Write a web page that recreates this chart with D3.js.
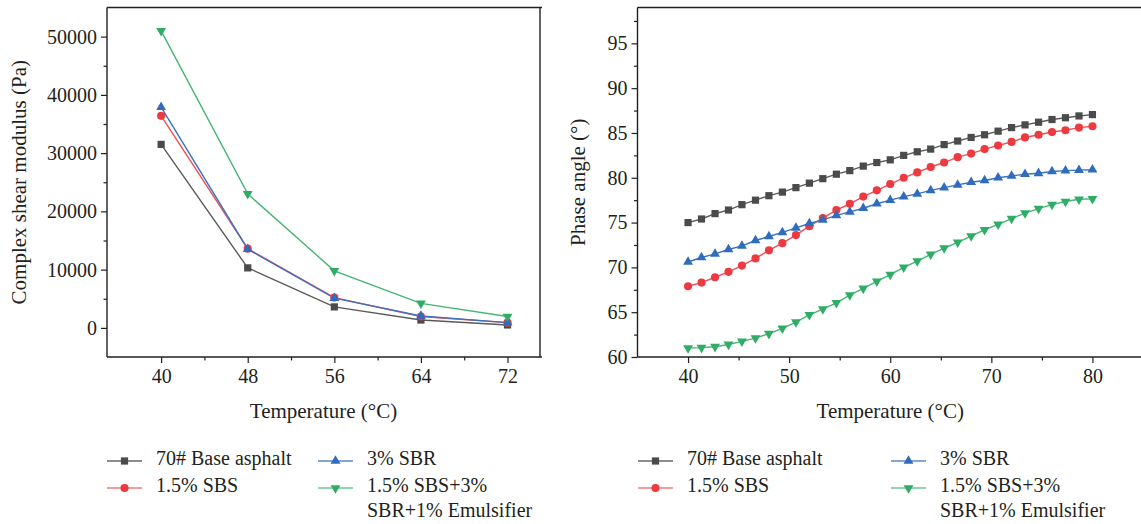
<!DOCTYPE html>
<html><head><meta charset="utf-8">
<script src="https://cdn.jsdelivr.net/npm/d3@7/dist/d3.min.js"></script>
<style>
html,body{margin:0;padding:0;background:#fff;}
svg{display:block;font-family:"Liberation Serif","Times New Roman",serif;}
</style></head>
<body><svg id="c" width="1141" height="524"></svg>
<script>
// ---------- data ----------
const modTemps = [40, 48, 56, 64, 72];
const modBase = [31500, 10300, 3600, 1350, 500];
const modSBS = [36400, 13600, 5200, 1950, 900];
const modSBR = [37900, 13500, 5100, 2050, 900];
const modComposite = [51000, 23000, 9800, 4200, 1950];

const phaseTemps = [40, 41.33, 42.67, 44, 45.33, 46.67, 48, 49.33, 50.67, 52, 53.33, 54.67, 56, 57.33, 58.67, 60,
  61.33, 62.67, 64, 65.33, 66.67, 68, 69.33, 70.67, 72, 73.33, 74.67, 76, 77.33, 78.67, 80];
const phaseBase = [75.0, 75.4, 76.0, 76.4, 77.0, 77.5, 78.0, 78.4, 78.9, 79.4, 79.9, 80.4, 80.8, 81.3, 81.7, 82.0,
  82.5, 82.9, 83.2, 83.7, 84.1, 84.5, 84.8, 85.2, 85.6, 85.9, 86.2, 86.5, 86.7, 86.9, 87.05];
const phaseSBS = [67.9, 68.3, 68.9, 69.5, 70.2, 71.0, 71.9, 72.7, 73.6, 74.6, 75.5, 76.4, 77.1, 77.9, 78.6, 79.3,
  80.0, 80.6, 81.2, 81.7, 82.3, 82.7, 83.2, 83.6, 84.0, 84.5, 84.8, 85.1, 85.3, 85.6, 85.75];
const phaseSBR = [70.6, 71.1, 71.5, 72.0, 72.4, 73.0, 73.45, 73.9, 74.4, 74.9, 75.3, 75.8, 76.2, 76.6, 77.1, 77.5,
  77.9, 78.2, 78.6, 78.9, 79.2, 79.5, 79.7, 80.0, 80.2, 80.4, 80.5, 80.7, 80.8, 80.85, 80.9];
const phaseComposite = [61.0, 61.05, 61.15, 61.4, 61.75, 62.1, 62.6, 63.2, 63.9, 64.7, 65.35, 66.05, 66.9, 67.65, 68.45, 69.2,
  70.0, 70.7, 71.45, 72.15, 72.8, 73.5, 74.2, 74.8, 75.45, 76.05, 76.55, 77.0, 77.35, 77.6, 77.65];

const seriesNames = ["70# Base asphalt", "1.5% SBS", "3% SBR", "1.5% SBS+3%\nSBR+1% Emulsifier"];
const modTicksX = [40, 48, 56, 64, 72];
const modMinorX = [44, 52, 60, 68];
const modTicksY = [0, 10000, 20000, 30000, 40000, 50000];
const modMinorY = [5000, 15000, 25000, 35000, 45000];
const phTicksX = [40, 50, 60, 70, 80];
const phMinorX = [45, 55, 65, 75];
const phTicksY = [60, 65, 70, 75, 80, 85, 90, 95];
const phMinorY = [62.5, 67.5, 72.5, 77.5, 82.5, 87.5, 92.5, 97.5];

// ---------- styles ----------
const markerCol = ["#4b4b4b", "#ec3a40", "#2f6cbd", "#2fac66"];
const lineCol = ["#5a5a5a", "#ee5055", "#3b72c0", "#45b676"];
const legLineCol = ["#666666", "#f27a7e", "#5a88c8", "#6cc796"];
const symType = [d3.symbolSquare, d3.symbolCircle, d3.symbolTriangle, d3.symbolTriangle];
const symSize = [52, 52, 42, 42];
const symRot = [0, 0, 0, 180];
const axisCol = "#231f20";
const textCol = "#231f20";

const svg = d3.select("#c");

function drawPanel(cfg) {
  const g = svg.append("g");
  const x = d3.scaleLinear().domain(cfg.xDomain).range([cfg.left, cfg.right]);
  const y = d3.scaleLinear().domain(cfg.yDomain).range([cfg.bottom, cfg.top]);

  // frame (top + right)
  g.append("line").attr("x1", cfg.left).attr("x2", cfg.right + 2).attr("y1", cfg.top).attr("y2", cfg.top)
    .attr("stroke", axisCol).attr("stroke-width", 1.4);
  g.append("line").attr("x1", cfg.right).attr("x2", cfg.right).attr("y1", cfg.top).attr("y2", cfg.bottom)
    .attr("stroke", axisCol).attr("stroke-width", 1.4);

  // axes
  const xAx = g.append("g").attr("transform", `translate(0,${cfg.bottom})`)
    .call(d3.axisBottom(x).tickValues(cfg.xTicks).tickSize(6).tickSizeOuter(0).tickPadding(6).tickFormat(d3.format("d")));
  const xMin = g.append("g").attr("transform", `translate(0,${cfg.bottom})`)
    .call(d3.axisBottom(x).tickValues(cfg.xMinor).tickSize(3.5).tickSizeOuter(0).tickFormat(""));
  const yAx = g.append("g").attr("transform", `translate(${cfg.left},0)`)
    .call(d3.axisLeft(y).tickValues(cfg.yTicks).tickSize(6).tickSizeOuter(0).tickPadding(4).tickFormat(d3.format("d")));
  const yMin = g.append("g").attr("transform", `translate(${cfg.left},0)`)
    .call(d3.axisLeft(y).tickValues(cfg.yMinor).tickSize(3.5).tickSizeOuter(0).tickFormat(""));
  [xAx, xMin, yAx, yMin].forEach(a => {
    a.select(".domain").attr("stroke", axisCol).attr("stroke-width", 1.4);
    a.selectAll(".tick line").attr("stroke", axisCol).attr("stroke-width", 1.2);
    a.selectAll("text").attr("fill", textCol).style("font-size", "20px")
      .style("font-family", '"Liberation Serif","Times New Roman",serif');
  });
  xAx.select(".domain").attr("d", `M${cfg.left},0H${cfg.right + 2}`);
  yAx.select(".domain").attr("d", `M0,${cfg.top}V${cfg.bottom}`);
  xMin.select(".domain").remove();
  yMin.select(".domain").remove();

  // series
  cfg.series.forEach((vals, i) => {
    const pts = cfg.xs.map((t, k) => [t, vals[k]]);
    g.append("path").datum(pts)
      .attr("fill", "none").attr("stroke", lineCol[i]).attr("stroke-width", 1.4)
      .attr("d", d3.line().x(d => x(d[0])).y(d => y(d[1])));
  });
  cfg.series.forEach((vals, i) => {
    const sym = d3.symbol().type(symType[i]).size(symSize[i]);
    g.selectAll(null).data(cfg.xs.map((t, k) => [t, vals[k]])).enter().append("path")
      .attr("d", sym)
      .attr("transform", d => `translate(${x(d[0])},${y(d[1])}) rotate(${symRot[i]})`)
      .attr("fill", markerCol[i]);
  });

  // axis titles
  g.append("text").attr("x", (cfg.left + cfg.right) / 2).attr("y", 418)
    .attr("text-anchor", "middle").attr("fill", textCol).style("font-size", "21px").text("Temperature (°C)");
  g.append("text").attr("transform", `translate(${cfg.yTitleX},${(cfg.top + cfg.bottom) / 2}) rotate(-90)`)
    .attr("text-anchor", "middle").attr("dy", "0.35em").attr("fill", textCol).style("font-size", "21px").text(cfg.yTitle);

  // legend
  const rows = [[0, 0], [1, 0], [0, 1], [1, 1]]; // [row, col]
  seriesNames.forEach((name, i) => {
    const r = rows[i][0], c = rows[i][1];
    const lx = cfg.legCols[c];
    const ly = 461 + r * 27;
    g.append("line").attr("x1", lx).attr("x2", lx + 35).attr("y1", ly).attr("y2", ly)
      .attr("stroke", legLineCol[i]).attr("stroke-width", 1.4);
    g.append("path").attr("d", d3.symbol().type(symType[i]).size(symSize[i]))
      .attr("transform", `translate(${lx + 17.5},${ly}) rotate(${symRot[i]})`).attr("fill", markerCol[i]);
    const t = g.append("text").attr("x", lx + 49).attr("y", ly + 4).attr("fill", textCol).style("font-size", "20px");
    name.split("\n").forEach((ln, j) => {
      t.append("tspan").attr("x", lx + 49).attr("dy", j === 0 ? 0 : 25).text(ln);
    });
  });
}

drawPanel({
  xDomain: [35, 75], yDomain: [-5000, 55000],
  left: 107, right: 540, top: 7.5, bottom: 357,
  xTicks: modTicksX, xMinor: modMinorX, yTicks: modTicksY, yMinor: modMinorY,
  xs: modTemps, series: [modBase, modSBS, modSBR, modComposite],
  yTitle: "Complex shear modulus (Pa)", yTitleX: 19,
  legCols: [107, 318]
});

drawPanel({
  xDomain: [35, 85], yDomain: [60, 99],
  left: 637.5, right: 1143, top: 7.5, bottom: 357,
  xTicks: phTicksX, xMinor: phMinorX, yTicks: phTicksY, yMinor: phMinorY,
  xs: phaseTemps, series: [phaseBase, phaseSBS, phaseSBR, phaseComposite],
  yTitle: "Phase angle (°)", yTitleX: 578,
  legCols: [638, 891]
});
</script></body></html>
